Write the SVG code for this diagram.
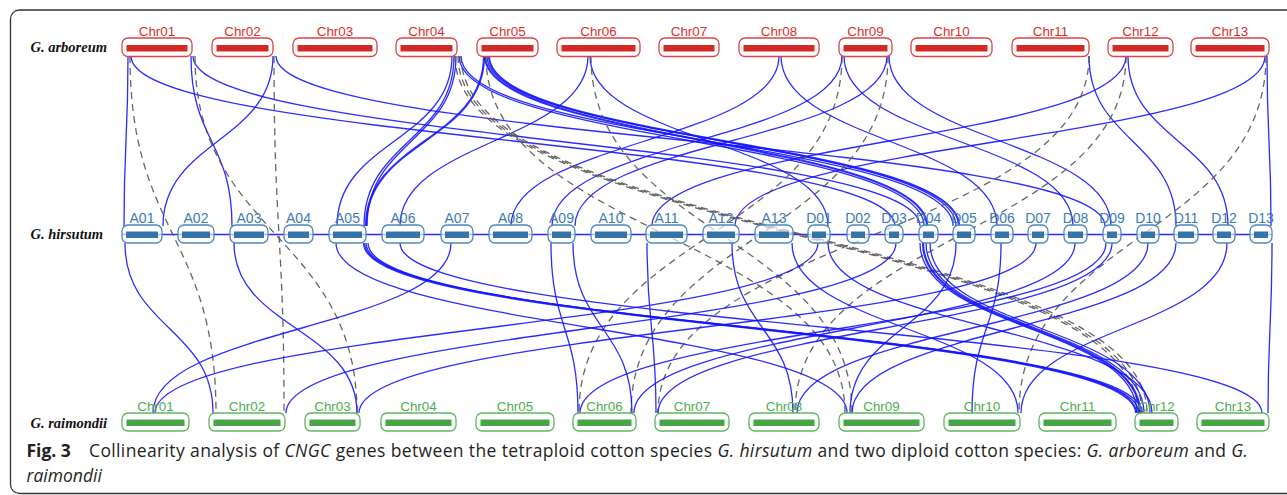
<svg xmlns="http://www.w3.org/2000/svg" width="1287" height="495" viewBox="0 0 1287 495">
<style>
.b{fill:none;stroke:#1515ff;stroke-width:1.3;stroke-opacity:.9}
.bt{stroke-width:2.2}
.d{fill:none;stroke:#555;stroke-width:1.3;stroke-dasharray:7 5;stroke-opacity:.9}
.o{fill:#fff;fill-opacity:.65;stroke-width:1.3}
.ga .o{stroke:#e04343}.ga .i{fill:#d42a25}
.gh .o{stroke:#4f88ba}.gh .i{fill:#3474a9}
.gr .o{stroke:#5cb85c}.gr .i{fill:#47a547}
.lbl{font-family:"Liberation Sans",Arial,sans-serif;text-anchor:middle}
.ga text{fill:#d9302c;font-size:13.4px}
.gh text{fill:#3c7bb4;font-size:14px}
.gr text{fill:#4cae4c;font-size:13.4px}
.sp{font-family:"Liberation Serif","Times New Roman",serif;font-weight:bold;font-style:italic;font-size:14.5px;fill:#111}
.cap{font-family:"Open Sans","Noto Sans",sans-serif;font-size:17.5px;fill:#231f20}
</style>
<rect x="10.5" y="10" width="1300" height="483.5" rx="9" fill="none" stroke="#333" stroke-width="1.3"/>
<text class="sp" x="30.5" y="52">G. arboreum</text>
<text class="sp" x="30.5" y="239">G. hirsutum</text>
<text class="sp" x="30.5" y="428">G. raimondii</text>
<line x1="122" y1="234.5" x2="1272" y2="234.5" stroke="#2a2aff" stroke-width="1.5"/>
<g id="connectors">
<!-- arboreum to hirsutum -->
<path class="b" d="M128 56C128 141 124 141 124 226"/>
<path class="b" d="M131 56C131 141 895 141 895 226"/>
<path class="b" d="M191 56C191 141 232 141 232 226"/>
<path class="b" d="M193 56C193 141 920 141 920 226"/>
<path class="b" d="M273 56C273 141 163 141 163 226"/>
<path class="b" d="M276 56C276 141 1105 141 1105 226"/>
<path class="b" d="M452 56C452 141 337 141 337 226"/>
<path class="b" d="M454 56C454 141 364 141 364 226"/>
<path class="b" d="M456 56C456 141 367 141 367 226"/>
<path class="b bt" d="M484 56C484 141 366 141 366 226"/>
<path class="b" d="M459 56C459 141 924 141 924 226"/>
<path class="b" d="M461 56C461 141 953 141 953 226"/>
<path class="b bt" d="M485 56C485 141 927 141 927 226"/>
<path class="b" d="M487 56C487 141 956 141 956 226"/>
<path class="b bt" d="M489 56C489 141 959 141 959 226"/>
<path class="b" d="M588 56C588 141 400 141 400 226"/>
<path class="b" d="M590 56C590 141 828 141 828 226"/>
<path class="b" d="M779 56C779 141 511 141 511 226"/>
<path class="b" d="M781 56C781 141 997 141 997 226"/>
<path class="b" d="M842 56C842 141 552 141 552 226"/>
<path class="b" d="M844 56C844 141 1073 141 1073 226"/>
<path class="b" d="M887 56C887 141 575 141 575 226"/>
<path class="b" d="M889 56C889 141 1111 141 1111 226"/>
<path class="b" d="M1089 56C1089 141 1176 141 1176 226"/>
<path class="b" d="M1126 56C1126 141 652 141 652 226"/>
<path class="b" d="M1128 56C1128 141 1228 141 1228 226"/>
<path class="b" d="M1265 56C1265 141 735 141 735 226"/>
<path class="b" d="M1267 56C1267 141 1271 141 1271 226"/>
<!-- arboreum to raimondii -->
<path class="d" d="M130 56C130 235 216 235 216 413"/>
<path class="d" d="M195 56C195 235 357 235 357 413"/>
<path class="d" d="M274 56C274 235 284 235 284 413"/>
<path class="d" d="M455 56C455 235 1138 235 1138 413"/>
<path class="d" d="M458 56C458 235 1142 235 1142 413"/>
<path class="d" d="M461 56C461 235 1147 235 1147 413"/>
<path class="d" d="M486 56C486 235 845 235 845 413"/>
<path class="d" d="M591 56C591 235 852 235 852 413"/>
<path class="d" d="M842 56C842 235 579 235 579 413"/>
<path class="d" d="M888 56C888 235 631 235 631 413"/>
<path class="d" d="M1089 56C1089 235 658 235 658 413"/>
<path class="d" d="M1126 56C1126 235 795 235 795 413"/>
<path class="d" d="M1266 56C1266 235 1019 235 1019 413"/>
<!-- hirsutum to raimondii -->
<path class="b" d="M125 243C125 328 213 328 213 413"/>
<path class="b" d="M234 243C234 328 357 328 357 413"/>
<path class="b" d="M451 243C451 328 153 328 153 413"/>
<path class="b" d="M336 243C336 328 847 328 847 413"/>
<path class="b bt" d="M364 243C364 328 1136 328 1136 413"/>
<path class="b" d="M366 243C366 328 1139 328 1139 413"/>
<path class="b" d="M368 243C368 328 1142 328 1142 413"/>
<path class="b" d="M400 243C400 328 1262 328 1262 413"/>
<path class="b" d="M551 243C551 328 578 328 578 413"/>
<path class="b" d="M573 243C573 328 632 328 632 413"/>
<path class="b" d="M647 243C647 328 656 328 656 413"/>
<path class="b" d="M732 243C732 328 793 328 793 413"/>
<path class="b" d="M792 243C792 328 1018 328 1018 413"/>
<path class="b" d="M818 243C818 328 155 328 155 413"/>
<path class="b" d="M828 243C828 328 1152 328 1152 413"/>
<path class="b" d="M896 243C896 328 286 328 286 413"/>
<path class="b" d="M920 243C920 328 1137 328 1137 413"/>
<path class="b bt" d="M923 243C923 328 1140 328 1140 413"/>
<path class="b" d="M926 243C926 328 1144 328 1144 413"/>
<path class="b" d="M930 243C930 328 1150 328 1150 413"/>
<path class="b" d="M956 243C956 328 850 328 850 413"/>
<path class="b" d="M1001 243C1001 328 972 328 972 413"/>
<path class="b" d="M1036 243C1036 328 359 328 359 413"/>
<path class="b" d="M1075 243C1075 328 634 328 634 413"/>
<path class="b" d="M1106 243C1106 328 580 328 580 413"/>
<path class="b" d="M1112 243C1112 328 658 328 658 413"/>
<path class="b" d="M1148 243C1148 328 797 328 797 413"/>
<path class="b" d="M1176 243C1176 328 852 328 852 413"/>
<path class="b" d="M1227 243C1227 328 1021 328 1021 413"/>
<path class="b" d="M1272 243C1272 328 1268 328 1268 413"/>
</g>
<g class="ga lbl">
<g id="ga-chr01"><rect class="o" x="122" y="38" width="70" height="18.5" rx="6"/><rect class="i" x="126.5" y="45" width="61" height="6.5"/><text x="157" y="36">Chr01</text></g>
<g id="ga-chr02"><rect class="o" x="212" y="38" width="61" height="18.5" rx="6"/><rect class="i" x="216.5" y="45" width="52" height="6.5"/><text x="242.5" y="36">Chr02</text></g>
<g id="ga-chr03"><rect class="o" x="293" y="38" width="84" height="18.5" rx="6"/><rect class="i" x="297.5" y="45" width="75" height="6.5"/><text x="335" y="36">Chr03</text></g>
<g id="ga-chr04"><rect class="o" x="396" y="38" width="61" height="18.5" rx="6"/><rect class="i" x="400.5" y="45" width="52" height="6.5"/><text x="426.5" y="36">Chr04</text></g>
<g id="ga-chr05"><rect class="o" x="477" y="38" width="61" height="18.5" rx="6"/><rect class="i" x="481.5" y="45" width="52" height="6.5"/><text x="507.5" y="36">Chr05</text></g>
<g id="ga-chr06"><rect class="o" x="557" y="38" width="83" height="18.5" rx="6"/><rect class="i" x="561.5" y="45" width="74" height="6.5"/><text x="598.5" y="36">Chr06</text></g>
<g id="ga-chr07"><rect class="o" x="659" y="38" width="60" height="18.5" rx="6"/><rect class="i" x="663.5" y="45" width="51" height="6.5"/><text x="689" y="36">Chr07</text></g>
<g id="ga-chr08"><rect class="o" x="739" y="38" width="80" height="18.5" rx="6"/><rect class="i" x="743.5" y="45" width="71" height="6.5"/><text x="779" y="36">Chr08</text></g>
<g id="ga-chr09"><rect class="o" x="839" y="38" width="53" height="18.5" rx="6"/><rect class="i" x="843.5" y="45" width="44" height="6.5"/><text x="865.5" y="36">Chr09</text></g>
<g id="ga-chr10"><rect class="o" x="911" y="38" width="81" height="18.5" rx="6"/><rect class="i" x="915.5" y="45" width="72" height="6.5"/><text x="951.5" y="36">Chr10</text></g>
<g id="ga-chr11"><rect class="o" x="1012" y="38" width="77" height="18.5" rx="6"/><rect class="i" x="1016.5" y="45" width="68" height="6.5"/><text x="1050.5" y="36">Chr11</text></g>
<g id="ga-chr12"><rect class="o" x="1108" y="38" width="65" height="18.5" rx="6"/><rect class="i" x="1112.5" y="45" width="56" height="6.5"/><text x="1140.5" y="36">Chr12</text></g>
<g id="ga-chr13"><rect class="o" x="1191" y="38" width="78" height="18.5" rx="6"/><rect class="i" x="1195.5" y="45" width="69" height="6.5"/><text x="1230" y="36">Chr13</text></g>
</g>
<g class="gh lbl">
<g id="gh-a01"><rect class="o" x="122" y="225" width="40" height="18" rx="6"/><rect class="i" x="126" y="231.5" width="32" height="6.5"/><text x="142" y="223">A01</text></g>
<g id="gh-a02"><rect class="o" x="178" y="225" width="36" height="18" rx="6"/><rect class="i" x="182" y="231.5" width="28" height="6.5"/><text x="196" y="223">A02</text></g>
<g id="gh-a03"><rect class="o" x="230" y="225" width="38" height="18" rx="6"/><rect class="i" x="234" y="231.5" width="30" height="6.5"/><text x="249" y="223">A03</text></g>
<g id="gh-a04"><rect class="o" x="284" y="225" width="29" height="18" rx="6"/><rect class="i" x="288" y="231.5" width="21" height="6.5"/><text x="298.5" y="223">A04</text></g>
<g id="gh-a05"><rect class="o" x="329" y="225" width="37" height="18" rx="6"/><rect class="i" x="333" y="231.5" width="29" height="6.5"/><text x="347.5" y="223">A05</text></g>
<g id="gh-a06"><rect class="o" x="382" y="225" width="42" height="18" rx="6"/><rect class="i" x="386" y="231.5" width="34" height="6.5"/><text x="403" y="223">A06</text></g>
<g id="gh-a07"><rect class="o" x="441" y="225" width="32" height="18" rx="6"/><rect class="i" x="445" y="231.5" width="24" height="6.5"/><text x="457" y="223">A07</text></g>
<g id="gh-a08"><rect class="o" x="489" y="225" width="43" height="18" rx="6"/><rect class="i" x="493" y="231.5" width="35" height="6.5"/><text x="510.5" y="223">A08</text></g>
<g id="gh-a09"><rect class="o" x="548" y="225" width="27" height="18" rx="6"/><rect class="i" x="552" y="231.5" width="19" height="6.5"/><text x="561.5" y="223">A09</text></g>
<g id="gh-a10"><rect class="o" x="591" y="225" width="40" height="18" rx="6"/><rect class="i" x="595" y="231.5" width="32" height="6.5"/><text x="611" y="223">A10</text></g>
<g id="gh-a11"><rect class="o" x="646" y="225" width="41" height="18" rx="6"/><rect class="i" x="650" y="231.5" width="33" height="6.5"/><text x="666.5" y="223">A11</text></g>
<g id="gh-a12"><rect class="o" x="703" y="225" width="36" height="18" rx="6"/><rect class="i" x="707" y="231.5" width="28" height="6.5"/><text x="721" y="223">A12</text></g>
<g id="gh-a13"><rect class="o" x="755" y="225" width="38" height="18" rx="6"/><rect class="i" x="759" y="231.5" width="30" height="6.5"/><text x="774" y="223">A13</text></g>
<g id="gh-d01"><rect class="o" x="808" y="225" width="22" height="18" rx="6"/><rect class="i" x="812" y="231.5" width="14" height="6.5"/><text x="819" y="223">D01</text></g>
<g id="gh-d02"><rect class="o" x="847" y="225" width="22" height="18" rx="6"/><rect class="i" x="851" y="231.5" width="14" height="6.5"/><text x="858" y="223">D02</text></g>
<g id="gh-d03"><rect class="o" x="885" y="225" width="18" height="18" rx="6"/><rect class="i" x="889" y="231.5" width="10" height="6.5"/><text x="894" y="223">D03</text></g>
<g id="gh-d04"><rect class="o" x="919" y="225" width="19" height="18" rx="6"/><rect class="i" x="923" y="231.5" width="11" height="6.5"/><text x="928.5" y="223">D04</text></g>
<g id="gh-d05"><rect class="o" x="953" y="225" width="22" height="18" rx="6"/><rect class="i" x="957" y="231.5" width="14" height="6.5"/><text x="964" y="223">D05</text></g>
<g id="gh-d06"><rect class="o" x="991" y="225" width="22" height="18" rx="6"/><rect class="i" x="995" y="231.5" width="14" height="6.5"/><text x="1002" y="223">D06</text></g>
<g id="gh-d07"><rect class="o" x="1028" y="225" width="20" height="18" rx="6"/><rect class="i" x="1032" y="231.5" width="12" height="6.5"/><text x="1038" y="223">D07</text></g>
<g id="gh-d08"><rect class="o" x="1064" y="225" width="23" height="18" rx="6"/><rect class="i" x="1068" y="231.5" width="15" height="6.5"/><text x="1075.5" y="223">D08</text></g>
<g id="gh-d09"><rect class="o" x="1103" y="225" width="18" height="18" rx="6"/><rect class="i" x="1107" y="231.5" width="10" height="6.5"/><text x="1112" y="223">D09</text></g>
<g id="gh-d10"><rect class="o" x="1137" y="225" width="22" height="18" rx="6"/><rect class="i" x="1141" y="231.5" width="14" height="6.5"/><text x="1148" y="223">D10</text></g>
<g id="gh-d11"><rect class="o" x="1174" y="225" width="24" height="18" rx="6"/><rect class="i" x="1178" y="231.5" width="16" height="6.5"/><text x="1186" y="223">D11</text></g>
<g id="gh-d12"><rect class="o" x="1213" y="225" width="22" height="18" rx="6"/><rect class="i" x="1217" y="231.5" width="14" height="6.5"/><text x="1224" y="223">D12</text></g>
<g id="gh-d13"><rect class="o" x="1250" y="225" width="22" height="18" rx="6"/><rect class="i" x="1254" y="231.5" width="14" height="6.5"/><text x="1261" y="223">D13</text></g>
</g>
<g class="gr lbl">
<g id="gr-chr01"><rect class="o" x="122" y="413" width="67" height="18" rx="6"/><rect class="i" x="126.5" y="419.5" width="58" height="6.5"/><text x="155.5" y="410.5">Chr01</text></g>
<g id="gr-chr02"><rect class="o" x="209" y="413" width="76" height="18" rx="6"/><rect class="i" x="213.5" y="419.5" width="67" height="6.5"/><text x="247" y="410.5">Chr02</text></g>
<g id="gr-chr03"><rect class="o" x="305" y="413" width="55" height="18" rx="6"/><rect class="i" x="309.5" y="419.5" width="46" height="6.5"/><text x="332.5" y="410.5">Chr03</text></g>
<g id="gr-chr04"><rect class="o" x="381" y="413" width="75" height="18" rx="6"/><rect class="i" x="385.5" y="419.5" width="66" height="6.5"/><text x="418.5" y="410.5">Chr04</text></g>
<g id="gr-chr05"><rect class="o" x="476" y="413" width="78" height="18" rx="6"/><rect class="i" x="480.5" y="419.5" width="69" height="6.5"/><text x="515" y="410.5">Chr05</text></g>
<g id="gr-chr06"><rect class="o" x="573" y="413" width="63" height="18" rx="6"/><rect class="i" x="577.5" y="419.5" width="54" height="6.5"/><text x="604.5" y="410.5">Chr06</text></g>
<g id="gr-chr07"><rect class="o" x="655" y="413" width="74" height="18" rx="6"/><rect class="i" x="659.5" y="419.5" width="65" height="6.5"/><text x="692" y="410.5">Chr07</text></g>
<g id="gr-chr08"><rect class="o" x="749" y="413" width="70" height="18" rx="6"/><rect class="i" x="753.5" y="419.5" width="61" height="6.5"/><text x="784" y="410.5">Chr08</text></g>
<g id="gr-chr09"><rect class="o" x="839" y="413" width="85" height="18" rx="6"/><rect class="i" x="843.5" y="419.5" width="76" height="6.5"/><text x="881.5" y="410.5">Chr09</text></g>
<g id="gr-chr10"><rect class="o" x="944" y="413" width="76" height="18" rx="6"/><rect class="i" x="948.5" y="419.5" width="67" height="6.5"/><text x="982" y="410.5">Chr10</text></g>
<g id="gr-chr11"><rect class="o" x="1039" y="413" width="77" height="18" rx="6"/><rect class="i" x="1043.5" y="419.5" width="68" height="6.5"/><text x="1077.5" y="410.5">Chr11</text></g>
<g id="gr-chr12"><rect class="o" x="1135" y="413" width="43" height="18" rx="6"/><rect class="i" x="1139.5" y="419.5" width="34" height="6.5"/><text x="1156.5" y="410.5">Chr12</text></g>
<g id="gr-chr13"><rect class="o" x="1197" y="413" width="72" height="18" rx="6"/><rect class="i" x="1201.5" y="419.5" width="63" height="6.5"/><text x="1233" y="410.5">Chr13</text></g>
</g>
<text class="cap" x="26.5" y="456.5" font-weight="bold">Fig. 3</text>
<text class="cap" x="89" y="456.5" textLength="1159" lengthAdjust="spacing">Collinearity analysis of <tspan font-style="italic">CNGC</tspan> genes between the tetraploid cotton species <tspan font-style="italic">G. hirsutum</tspan> and two diploid cotton species: <tspan font-style="italic">G. arboreum</tspan> and <tspan font-style="italic">G.</tspan></text>
<text class="cap" x="26.5" y="482" font-style="italic">raimondii</text>
</svg>
